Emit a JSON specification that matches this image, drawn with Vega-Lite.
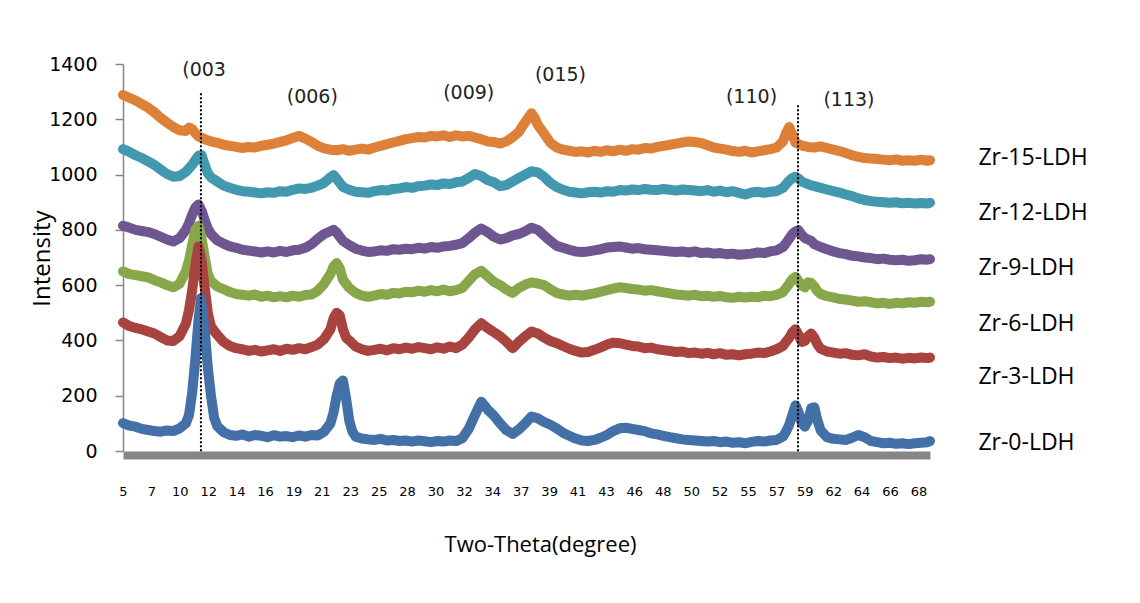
{
  "$schema": "https://vega.github.io/schema/vega-lite/v6.json",
  "width": 807,
  "height": 387,
  "autosize": "none",
  "padding": {"left": 123, "top": 64, "right": 210, "bottom": 152},
  "background": "white",
  "config": {"view": {"stroke": null}},
  "datasets": {
    "xrd": [
{"s":"15","x":5,"y":1288},{"s":"15","x":5.5,"y":1278},{"s":"15","x":6,"y":1268},{"s":"15","x":6.5,"y":1255},{"s":"15","x":7,"y":1242},{"s":"15","x":7.5,"y":1225},{"s":"15","x":8,"y":1205},{"s":"15","x":8.5,"y":1188},{"s":"15","x":9,"y":1172},{"s":"15","x":9.5,"y":1160},{"s":"15","x":10,"y":1158},{"s":"15","x":10.25,"y":1170},{"s":"15","x":10.5,"y":1165},{"s":"15","x":10.75,"y":1150},{"s":"15","x":11,"y":1138},{"s":"15","x":11.5,"y":1128},{"s":"15","x":12,"y":1120},{"s":"15","x":12.5,"y":1115},{"s":"15","x":13,"y":1108},{"s":"15","x":13.5,"y":1104},{"s":"15","x":14,"y":1100},{"s":"15","x":14.5,"y":1096},{"s":"15","x":15,"y":1100},{"s":"15","x":15.5,"y":1098},{"s":"15","x":16,"y":1104},{"s":"15","x":16.5,"y":1108},{"s":"15","x":17,"y":1112},{"s":"15","x":17.5,"y":1118},{"s":"15","x":18,"y":1124},{"s":"15","x":18.5,"y":1132},{"s":"15","x":19,"y":1140},{"s":"15","x":19.5,"y":1130},{"s":"15","x":20,"y":1118},{"s":"15","x":20.5,"y":1104},{"s":"15","x":21,"y":1095},{"s":"15","x":21.5,"y":1090},{"s":"15","x":22,"y":1088},{"s":"15","x":22.5,"y":1092},{"s":"15","x":23,"y":1086},{"s":"15","x":23.5,"y":1090},{"s":"15","x":24,"y":1094},{"s":"15","x":24.5,"y":1090},{"s":"15","x":25,"y":1098},{"s":"15","x":25.5,"y":1104},{"s":"15","x":26,"y":1110},{"s":"15","x":26.5,"y":1116},{"s":"15","x":27,"y":1122},{"s":"15","x":27.5,"y":1128},{"s":"15","x":28,"y":1132},{"s":"15","x":28.5,"y":1136},{"s":"15","x":29,"y":1134},{"s":"15","x":29.5,"y":1140},{"s":"15","x":30,"y":1138},{"s":"15","x":30.5,"y":1142},{"s":"15","x":31,"y":1136},{"s":"15","x":31.5,"y":1142},{"s":"15","x":32,"y":1138},{"s":"15","x":32.5,"y":1140},{"s":"15","x":33,"y":1134},{"s":"15","x":33.5,"y":1128},{"s":"15","x":34,"y":1120},{"s":"15","x":34.5,"y":1118},{"s":"15","x":35,"y":1112},{"s":"15","x":35.5,"y":1120},{"s":"15","x":36,"y":1135},{"s":"15","x":36.5,"y":1155},{"s":"15","x":37,"y":1190},{"s":"15","x":37.5,"y":1222},{"s":"15","x":37.75,"y":1205},{"s":"15","x":38,"y":1180},{"s":"15","x":38.5,"y":1148},{"s":"15","x":39,"y":1115},{"s":"15","x":39.5,"y":1098},{"s":"15","x":40,"y":1090},{"s":"15","x":40.5,"y":1086},{"s":"15","x":41,"y":1082},{"s":"15","x":41.5,"y":1084},{"s":"15","x":42,"y":1080},{"s":"15","x":42.5,"y":1086},{"s":"15","x":43,"y":1082},{"s":"15","x":43.5,"y":1088},{"s":"15","x":44,"y":1084},{"s":"15","x":44.5,"y":1090},{"s":"15","x":45,"y":1086},{"s":"15","x":45.5,"y":1092},{"s":"15","x":46,"y":1090},{"s":"15","x":46.5,"y":1096},{"s":"15","x":47,"y":1094},{"s":"15","x":47.5,"y":1100},{"s":"15","x":48,"y":1104},{"s":"15","x":48.5,"y":1108},{"s":"15","x":49,"y":1112},{"s":"15","x":49.5,"y":1116},{"s":"15","x":50,"y":1120},{"s":"15","x":50.5,"y":1118},{"s":"15","x":51,"y":1114},{"s":"15","x":51.5,"y":1106},{"s":"15","x":52,"y":1098},{"s":"15","x":52.5,"y":1094},{"s":"15","x":53,"y":1090},{"s":"15","x":53.5,"y":1085},{"s":"15","x":54,"y":1082},{"s":"15","x":54.5,"y":1086},{"s":"15","x":55,"y":1080},{"s":"15","x":55.5,"y":1084},{"s":"15","x":56,"y":1088},{"s":"15","x":56.5,"y":1092},{"s":"15","x":57,"y":1098},{"s":"15","x":57.5,"y":1120},{"s":"15","x":57.75,"y":1150},{"s":"15","x":58,"y":1172},{"s":"15","x":58.25,"y":1145},{"s":"15","x":58.5,"y":1115},{"s":"15","x":59,"y":1105},{"s":"15","x":59.5,"y":1100},{"s":"15","x":60,"y":1098},{"s":"15","x":60.5,"y":1102},{"s":"15","x":61,"y":1096},{"s":"15","x":61.5,"y":1090},{"s":"15","x":62,"y":1085},{"s":"15","x":62.5,"y":1078},{"s":"15","x":63,"y":1070},{"s":"15","x":63.5,"y":1064},{"s":"15","x":64,"y":1060},{"s":"15","x":64.5,"y":1058},{"s":"15","x":65,"y":1056},{"s":"15","x":65.5,"y":1054},{"s":"15","x":66,"y":1052},{"s":"15","x":66.5,"y":1055},{"s":"15","x":67,"y":1050},{"s":"15","x":67.5,"y":1052},{"s":"15","x":68,"y":1050},{"s":"15","x":68.5,"y":1054},{"s":"15","x":69,"y":1050},{"s":"15","x":69.2,"y":1052},
{"s":"12","x":5,"y":1092},{"s":"12","x":5.5,"y":1082},{"s":"12","x":6,"y":1070},{"s":"12","x":6.5,"y":1060},{"s":"12","x":7,"y":1048},{"s":"12","x":7.5,"y":1035},{"s":"12","x":8,"y":1018},{"s":"12","x":8.5,"y":1002},{"s":"12","x":9,"y":992},{"s":"12","x":9.5,"y":995},{"s":"12","x":10,"y":1010},{"s":"12","x":10.5,"y":1035},{"s":"12","x":10.75,"y":1052},{"s":"12","x":11,"y":1068},{"s":"12","x":11.25,"y":1070},{"s":"12","x":11.5,"y":1035},{"s":"12","x":11.75,"y":1005},{"s":"12","x":12,"y":990},{"s":"12","x":12.5,"y":975},{"s":"12","x":13,"y":960},{"s":"12","x":13.5,"y":952},{"s":"12","x":14,"y":945},{"s":"12","x":14.5,"y":940},{"s":"12","x":15,"y":938},{"s":"12","x":15.5,"y":935},{"s":"12","x":16,"y":932},{"s":"12","x":16.5,"y":936},{"s":"12","x":17,"y":934},{"s":"12","x":17.5,"y":940},{"s":"12","x":18,"y":938},{"s":"12","x":18.5,"y":945},{"s":"12","x":19,"y":950},{"s":"12","x":19.5,"y":948},{"s":"12","x":20,"y":952},{"s":"12","x":20.5,"y":960},{"s":"12","x":21,"y":970},{"s":"12","x":21.5,"y":990},{"s":"12","x":21.75,"y":998},{"s":"12","x":22,"y":985},{"s":"12","x":22.5,"y":955},{"s":"12","x":23,"y":945},{"s":"12","x":23.5,"y":938},{"s":"12","x":24,"y":936},{"s":"12","x":24.5,"y":934},{"s":"12","x":25,"y":940},{"s":"12","x":25.5,"y":944},{"s":"12","x":26,"y":942},{"s":"12","x":26.5,"y":948},{"s":"12","x":27,"y":950},{"s":"12","x":27.5,"y":955},{"s":"12","x":28,"y":952},{"s":"12","x":28.5,"y":958},{"s":"12","x":29,"y":960},{"s":"12","x":29.5,"y":964},{"s":"12","x":30,"y":962},{"s":"12","x":30.5,"y":968},{"s":"12","x":31,"y":966},{"s":"12","x":31.5,"y":972},{"s":"12","x":32,"y":975},{"s":"12","x":32.5,"y":988},{"s":"12","x":33,"y":1002},{"s":"12","x":33.5,"y":995},{"s":"12","x":34,"y":980},{"s":"12","x":34.5,"y":972},{"s":"12","x":35,"y":958},{"s":"12","x":35.5,"y":962},{"s":"12","x":36,"y":975},{"s":"12","x":36.5,"y":988},{"s":"12","x":37,"y":1000},{"s":"12","x":37.5,"y":1012},{"s":"12","x":38,"y":1008},{"s":"12","x":38.5,"y":992},{"s":"12","x":39,"y":970},{"s":"12","x":39.5,"y":955},{"s":"12","x":40,"y":945},{"s":"12","x":40.5,"y":938},{"s":"12","x":41,"y":935},{"s":"12","x":41.5,"y":932},{"s":"12","x":42,"y":936},{"s":"12","x":42.5,"y":938},{"s":"12","x":43,"y":935},{"s":"12","x":43.5,"y":940},{"s":"12","x":44,"y":938},{"s":"12","x":44.5,"y":944},{"s":"12","x":45,"y":942},{"s":"12","x":45.5,"y":946},{"s":"12","x":46,"y":944},{"s":"12","x":46.5,"y":948},{"s":"12","x":47,"y":945},{"s":"12","x":47.5,"y":944},{"s":"12","x":48,"y":948},{"s":"12","x":48.5,"y":945},{"s":"12","x":49,"y":942},{"s":"12","x":49.5,"y":946},{"s":"12","x":50,"y":944},{"s":"12","x":50.5,"y":942},{"s":"12","x":51,"y":940},{"s":"12","x":51.5,"y":944},{"s":"12","x":52,"y":938},{"s":"12","x":52.5,"y":942},{"s":"12","x":53,"y":936},{"s":"12","x":53.5,"y":940},{"s":"12","x":54,"y":934},{"s":"12","x":54.5,"y":928},{"s":"12","x":55,"y":935},{"s":"12","x":55.5,"y":938},{"s":"12","x":56,"y":934},{"s":"12","x":56.5,"y":938},{"s":"12","x":57,"y":940},{"s":"12","x":57.5,"y":952},{"s":"12","x":57.75,"y":965},{"s":"12","x":58,"y":978},{"s":"12","x":58.25,"y":988},{"s":"12","x":58.5,"y":992},{"s":"12","x":58.75,"y":985},{"s":"12","x":59,"y":975},{"s":"12","x":59.5,"y":965},{"s":"12","x":60,"y":958},{"s":"12","x":60.5,"y":952},{"s":"12","x":61,"y":946},{"s":"12","x":61.5,"y":940},{"s":"12","x":62,"y":935},{"s":"12","x":62.5,"y":928},{"s":"12","x":63,"y":922},{"s":"12","x":63.5,"y":914},{"s":"12","x":64,"y":908},{"s":"12","x":64.5,"y":904},{"s":"12","x":65,"y":902},{"s":"12","x":65.5,"y":900},{"s":"12","x":66,"y":898},{"s":"12","x":66.5,"y":900},{"s":"12","x":67,"y":896},{"s":"12","x":67.5,"y":898},{"s":"12","x":68,"y":895},{"s":"12","x":68.5,"y":897},{"s":"12","x":69,"y":895},{"s":"12","x":69.2,"y":898},
{"s":"9","x":5,"y":815},{"s":"9","x":5.5,"y":808},{"s":"9","x":6,"y":800},{"s":"9","x":6.5,"y":796},{"s":"9","x":7,"y":792},{"s":"9","x":7.5,"y":785},{"s":"9","x":8,"y":775},{"s":"9","x":8.5,"y":765},{"s":"9","x":9,"y":758},{"s":"9","x":9.5,"y":770},{"s":"9","x":10,"y":800},{"s":"9","x":10.25,"y":825},{"s":"9","x":10.5,"y":855},{"s":"9","x":10.75,"y":880},{"s":"9","x":11,"y":892},{"s":"9","x":11.25,"y":870},{"s":"9","x":11.5,"y":835},{"s":"9","x":11.75,"y":805},{"s":"9","x":12,"y":785},{"s":"9","x":12.5,"y":762},{"s":"9","x":13,"y":750},{"s":"9","x":13.5,"y":740},{"s":"9","x":14,"y":735},{"s":"9","x":14.5,"y":728},{"s":"9","x":15,"y":725},{"s":"9","x":15.5,"y":722},{"s":"9","x":16,"y":718},{"s":"9","x":16.5,"y":722},{"s":"9","x":17,"y":718},{"s":"9","x":17.5,"y":724},{"s":"9","x":18,"y":720},{"s":"9","x":18.5,"y":726},{"s":"9","x":19,"y":728},{"s":"9","x":19.5,"y":735},{"s":"9","x":20,"y":748},{"s":"9","x":20.5,"y":768},{"s":"9","x":21,"y":785},{"s":"9","x":21.5,"y":795},{"s":"9","x":21.75,"y":800},{"s":"9","x":22,"y":790},{"s":"9","x":22.5,"y":760},{"s":"9","x":23,"y":745},{"s":"9","x":23.5,"y":732},{"s":"9","x":24,"y":725},{"s":"9","x":24.5,"y":720},{"s":"9","x":25,"y":722},{"s":"9","x":25.5,"y":726},{"s":"9","x":26,"y":724},{"s":"9","x":26.5,"y":730},{"s":"9","x":27,"y":728},{"s":"9","x":27.5,"y":732},{"s":"9","x":28,"y":730},{"s":"9","x":28.5,"y":735},{"s":"9","x":29,"y":732},{"s":"9","x":29.5,"y":738},{"s":"9","x":30,"y":735},{"s":"9","x":30.5,"y":740},{"s":"9","x":31,"y":742},{"s":"9","x":31.5,"y":746},{"s":"9","x":32,"y":752},{"s":"9","x":32.5,"y":770},{"s":"9","x":33,"y":790},{"s":"9","x":33.5,"y":805},{"s":"9","x":34,"y":792},{"s":"9","x":34.5,"y":775},{"s":"9","x":35,"y":765},{"s":"9","x":35.5,"y":770},{"s":"9","x":36,"y":780},{"s":"9","x":36.5,"y":785},{"s":"9","x":37,"y":795},{"s":"9","x":37.5,"y":808},{"s":"9","x":38,"y":800},{"s":"9","x":38.5,"y":780},{"s":"9","x":39,"y":760},{"s":"9","x":39.5,"y":742},{"s":"9","x":40,"y":735},{"s":"9","x":40.5,"y":728},{"s":"9","x":41,"y":722},{"s":"9","x":41.5,"y":720},{"s":"9","x":42,"y":722},{"s":"9","x":42.5,"y":726},{"s":"9","x":43,"y":730},{"s":"9","x":43.5,"y":736},{"s":"9","x":44,"y":738},{"s":"9","x":44.5,"y":740},{"s":"9","x":45,"y":736},{"s":"9","x":45.5,"y":732},{"s":"9","x":46,"y":734},{"s":"9","x":46.5,"y":730},{"s":"9","x":47,"y":728},{"s":"9","x":47.5,"y":726},{"s":"9","x":48,"y":724},{"s":"9","x":48.5,"y":722},{"s":"9","x":49,"y":720},{"s":"9","x":49.5,"y":722},{"s":"9","x":50,"y":718},{"s":"9","x":50.5,"y":722},{"s":"9","x":51,"y":716},{"s":"9","x":51.5,"y":718},{"s":"9","x":52,"y":714},{"s":"9","x":52.5,"y":716},{"s":"9","x":53,"y":712},{"s":"9","x":53.5,"y":714},{"s":"9","x":54,"y":710},{"s":"9","x":54.5,"y":712},{"s":"9","x":55,"y":714},{"s":"9","x":55.5,"y":718},{"s":"9","x":56,"y":716},{"s":"9","x":56.5,"y":722},{"s":"9","x":57,"y":726},{"s":"9","x":57.5,"y":738},{"s":"9","x":57.75,"y":752},{"s":"9","x":58,"y":768},{"s":"9","x":58.25,"y":785},{"s":"9","x":58.5,"y":795},{"s":"9","x":58.75,"y":798},{"s":"9","x":59,"y":782},{"s":"9","x":59.25,"y":770},{"s":"9","x":59.5,"y":765},{"s":"9","x":59.75,"y":760},{"s":"9","x":60,"y":748},{"s":"9","x":60.5,"y":738},{"s":"9","x":61,"y":730},{"s":"9","x":61.5,"y":722},{"s":"9","x":62,"y":716},{"s":"9","x":62.5,"y":712},{"s":"9","x":63,"y":706},{"s":"9","x":63.5,"y":704},{"s":"9","x":64,"y":700},{"s":"9","x":64.5,"y":698},{"s":"9","x":65,"y":694},{"s":"9","x":65.5,"y":696},{"s":"9","x":66,"y":692},{"s":"9","x":66.5,"y":690},{"s":"9","x":67,"y":692},{"s":"9","x":67.5,"y":688},{"s":"9","x":68,"y":690},{"s":"9","x":68.5,"y":694},{"s":"9","x":69,"y":692},{"s":"9","x":69.2,"y":694},
{"s":"6","x":5,"y":650},{"s":"6","x":5.5,"y":640},{"s":"6","x":6,"y":636},{"s":"6","x":6.5,"y":632},{"s":"6","x":7,"y":628},{"s":"6","x":7.5,"y":618},{"s":"6","x":8,"y":610},{"s":"6","x":8.5,"y":600},{"s":"6","x":9,"y":592},{"s":"6","x":9.5,"y":605},{"s":"6","x":10,"y":650},{"s":"6","x":10.25,"y":690},{"s":"6","x":10.5,"y":745},{"s":"6","x":10.75,"y":800},{"s":"6","x":11,"y":815},{"s":"6","x":11.25,"y":770},{"s":"6","x":11.5,"y":700},{"s":"6","x":11.75,"y":640},{"s":"6","x":12,"y":615},{"s":"6","x":12.5,"y":595},{"s":"6","x":13,"y":585},{"s":"6","x":13.5,"y":575},{"s":"6","x":14,"y":568},{"s":"6","x":14.5,"y":565},{"s":"6","x":15,"y":562},{"s":"6","x":15.5,"y":566},{"s":"6","x":16,"y":558},{"s":"6","x":16.5,"y":562},{"s":"6","x":17,"y":556},{"s":"6","x":17.5,"y":560},{"s":"6","x":18,"y":556},{"s":"6","x":18.5,"y":562},{"s":"6","x":19,"y":558},{"s":"6","x":19.5,"y":564},{"s":"6","x":20,"y":566},{"s":"6","x":20.5,"y":580},{"s":"6","x":21,"y":605},{"s":"6","x":21.5,"y":640},{"s":"6","x":21.75,"y":668},{"s":"6","x":22,"y":680},{"s":"6","x":22.25,"y":660},{"s":"6","x":22.5,"y":620},{"s":"6","x":23,"y":590},{"s":"6","x":23.5,"y":572},{"s":"6","x":24,"y":562},{"s":"6","x":24.5,"y":558},{"s":"6","x":25,"y":562},{"s":"6","x":25.5,"y":568},{"s":"6","x":26,"y":565},{"s":"6","x":26.5,"y":572},{"s":"6","x":27,"y":570},{"s":"6","x":27.5,"y":576},{"s":"6","x":28,"y":574},{"s":"6","x":28.5,"y":580},{"s":"6","x":29,"y":576},{"s":"6","x":29.5,"y":582},{"s":"6","x":30,"y":578},{"s":"6","x":30.5,"y":584},{"s":"6","x":31,"y":578},{"s":"6","x":31.5,"y":582},{"s":"6","x":32,"y":590},{"s":"6","x":32.5,"y":615},{"s":"6","x":33,"y":640},{"s":"6","x":33.5,"y":652},{"s":"6","x":34,"y":632},{"s":"6","x":34.5,"y":612},{"s":"6","x":35,"y":600},{"s":"6","x":35.5,"y":584},{"s":"6","x":36,"y":572},{"s":"6","x":36.5,"y":590},{"s":"6","x":37,"y":602},{"s":"6","x":37.5,"y":610},{"s":"6","x":38,"y":606},{"s":"6","x":38.5,"y":600},{"s":"6","x":39,"y":585},{"s":"6","x":39.5,"y":572},{"s":"6","x":40,"y":566},{"s":"6","x":40.5,"y":562},{"s":"6","x":41,"y":565},{"s":"6","x":41.5,"y":562},{"s":"6","x":42,"y":566},{"s":"6","x":42.5,"y":570},{"s":"6","x":43,"y":576},{"s":"6","x":43.5,"y":582},{"s":"6","x":44,"y":588},{"s":"6","x":44.5,"y":592},{"s":"6","x":45,"y":590},{"s":"6","x":45.5,"y":586},{"s":"6","x":46,"y":584},{"s":"6","x":46.5,"y":580},{"s":"6","x":47,"y":582},{"s":"6","x":47.5,"y":578},{"s":"6","x":48,"y":574},{"s":"6","x":48.5,"y":570},{"s":"6","x":49,"y":566},{"s":"6","x":49.5,"y":564},{"s":"6","x":50,"y":562},{"s":"6","x":50.5,"y":565},{"s":"6","x":51,"y":560},{"s":"6","x":51.5,"y":562},{"s":"6","x":52,"y":558},{"s":"6","x":52.5,"y":561},{"s":"6","x":53,"y":556},{"s":"6","x":53.5,"y":554},{"s":"6","x":54,"y":558},{"s":"6","x":54.5,"y":555},{"s":"6","x":55,"y":558},{"s":"6","x":55.5,"y":556},{"s":"6","x":56,"y":562},{"s":"6","x":56.5,"y":560},{"s":"6","x":57,"y":565},{"s":"6","x":57.5,"y":575},{"s":"6","x":57.75,"y":590},{"s":"6","x":58,"y":605},{"s":"6","x":58.25,"y":622},{"s":"6","x":58.5,"y":630},{"s":"6","x":58.75,"y":615},{"s":"6","x":59,"y":598},{"s":"6","x":59.25,"y":592},{"s":"6","x":59.5,"y":610},{"s":"6","x":59.75,"y":608},{"s":"6","x":60,"y":595},{"s":"6","x":60.25,"y":578},{"s":"6","x":60.5,"y":568},{"s":"6","x":61,"y":560},{"s":"6","x":61.5,"y":556},{"s":"6","x":62,"y":550},{"s":"6","x":62.5,"y":548},{"s":"6","x":63,"y":544},{"s":"6","x":63.5,"y":540},{"s":"6","x":64,"y":542},{"s":"6","x":64.5,"y":538},{"s":"6","x":65,"y":534},{"s":"6","x":65.5,"y":536},{"s":"6","x":66,"y":532},{"s":"6","x":66.5,"y":536},{"s":"6","x":67,"y":534},{"s":"6","x":67.5,"y":538},{"s":"6","x":68,"y":536},{"s":"6","x":68.5,"y":540},{"s":"6","x":69,"y":538},{"s":"6","x":69.2,"y":540},
{"s":"3","x":5,"y":465},{"s":"3","x":5.5,"y":452},{"s":"3","x":6,"y":445},{"s":"3","x":6.5,"y":440},{"s":"3","x":7,"y":432},{"s":"3","x":7.5,"y":425},{"s":"3","x":8,"y":412},{"s":"3","x":8.5,"y":400},{"s":"3","x":9,"y":398},{"s":"3","x":9.5,"y":415},{"s":"3","x":10,"y":460},{"s":"3","x":10.25,"y":510},{"s":"3","x":10.5,"y":580},{"s":"3","x":10.75,"y":670},{"s":"3","x":11,"y":740},{"s":"3","x":11.25,"y":690},{"s":"3","x":11.5,"y":590},{"s":"3","x":11.75,"y":500},{"s":"3","x":12,"y":450},{"s":"3","x":12.5,"y":420},{"s":"3","x":13,"y":395},{"s":"3","x":13.5,"y":380},{"s":"3","x":14,"y":372},{"s":"3","x":14.5,"y":368},{"s":"3","x":15,"y":362},{"s":"3","x":15.5,"y":366},{"s":"3","x":16,"y":360},{"s":"3","x":16.5,"y":364},{"s":"3","x":17,"y":368},{"s":"3","x":17.5,"y":362},{"s":"3","x":18,"y":370},{"s":"3","x":18.5,"y":366},{"s":"3","x":19,"y":372},{"s":"3","x":19.5,"y":368},{"s":"3","x":20,"y":376},{"s":"3","x":20.5,"y":385},{"s":"3","x":21,"y":405},{"s":"3","x":21.5,"y":440},{"s":"3","x":21.75,"y":480},{"s":"3","x":22,"y":500},{"s":"3","x":22.25,"y":490},{"s":"3","x":22.5,"y":440},{"s":"3","x":22.75,"y":410},{"s":"3","x":23,"y":400},{"s":"3","x":23.5,"y":378},{"s":"3","x":24,"y":368},{"s":"3","x":24.5,"y":362},{"s":"3","x":25,"y":366},{"s":"3","x":25.5,"y":370},{"s":"3","x":26,"y":364},{"s":"3","x":26.5,"y":372},{"s":"3","x":27,"y":368},{"s":"3","x":27.5,"y":374},{"s":"3","x":28,"y":370},{"s":"3","x":28.5,"y":376},{"s":"3","x":29,"y":372},{"s":"3","x":29.5,"y":368},{"s":"3","x":30,"y":375},{"s":"3","x":30.5,"y":370},{"s":"3","x":31,"y":378},{"s":"3","x":31.5,"y":372},{"s":"3","x":32,"y":385},{"s":"3","x":32.5,"y":410},{"s":"3","x":33,"y":440},{"s":"3","x":33.5,"y":462},{"s":"3","x":34,"y":445},{"s":"3","x":34.5,"y":430},{"s":"3","x":35,"y":415},{"s":"3","x":35.5,"y":395},{"s":"3","x":36,"y":372},{"s":"3","x":36.5,"y":395},{"s":"3","x":37,"y":415},{"s":"3","x":37.5,"y":432},{"s":"3","x":38,"y":425},{"s":"3","x":38.5,"y":410},{"s":"3","x":39,"y":398},{"s":"3","x":39.5,"y":390},{"s":"3","x":40,"y":380},{"s":"3","x":40.5,"y":370},{"s":"3","x":41,"y":362},{"s":"3","x":41.5,"y":356},{"s":"3","x":42,"y":358},{"s":"3","x":42.5,"y":366},{"s":"3","x":43,"y":375},{"s":"3","x":43.5,"y":385},{"s":"3","x":44,"y":392},{"s":"3","x":44.5,"y":390},{"s":"3","x":45,"y":385},{"s":"3","x":45.5,"y":380},{"s":"3","x":46,"y":378},{"s":"3","x":46.5,"y":372},{"s":"3","x":47,"y":374},{"s":"3","x":47.5,"y":368},{"s":"3","x":48,"y":365},{"s":"3","x":48.5,"y":362},{"s":"3","x":49,"y":358},{"s":"3","x":49.5,"y":360},{"s":"3","x":50,"y":354},{"s":"3","x":50.5,"y":356},{"s":"3","x":51,"y":352},{"s":"3","x":51.5,"y":355},{"s":"3","x":52,"y":350},{"s":"3","x":52.5,"y":354},{"s":"3","x":53,"y":348},{"s":"3","x":53.5,"y":350},{"s":"3","x":54,"y":346},{"s":"3","x":54.5,"y":350},{"s":"3","x":55,"y":352},{"s":"3","x":55.5,"y":356},{"s":"3","x":56,"y":354},{"s":"3","x":56.5,"y":360},{"s":"3","x":57,"y":368},{"s":"3","x":57.5,"y":380},{"s":"3","x":57.75,"y":395},{"s":"3","x":58,"y":410},{"s":"3","x":58.25,"y":430},{"s":"3","x":58.5,"y":440},{"s":"3","x":58.75,"y":420},{"s":"3","x":59,"y":395},{"s":"3","x":59.25,"y":398},{"s":"3","x":59.5,"y":415},{"s":"3","x":59.75,"y":425},{"s":"3","x":60,"y":410},{"s":"3","x":60.25,"y":385},{"s":"3","x":60.5,"y":370},{"s":"3","x":61,"y":360},{"s":"3","x":61.5,"y":356},{"s":"3","x":62,"y":352},{"s":"3","x":62.5,"y":354},{"s":"3","x":63,"y":348},{"s":"3","x":63.5,"y":346},{"s":"3","x":64,"y":350},{"s":"3","x":64.5,"y":342},{"s":"3","x":65,"y":338},{"s":"3","x":65.5,"y":340},{"s":"3","x":66,"y":336},{"s":"3","x":66.5,"y":338},{"s":"3","x":67,"y":334},{"s":"3","x":67.5,"y":337},{"s":"3","x":68,"y":335},{"s":"3","x":68.5,"y":338},{"s":"3","x":69,"y":336},{"s":"3","x":69.2,"y":338},
{"s":"0","x":5,"y":101},{"s":"0","x":5.5,"y":92},{"s":"0","x":6,"y":88},{"s":"0","x":6.5,"y":80},{"s":"0","x":7,"y":76},{"s":"0","x":7.5,"y":72},{"s":"0","x":8,"y":70},{"s":"0","x":8.5,"y":74},{"s":"0","x":9,"y":72},{"s":"0","x":9.5,"y":82},{"s":"0","x":10,"y":100},{"s":"0","x":10.25,"y":130},{"s":"0","x":10.5,"y":210},{"s":"0","x":10.75,"y":330},{"s":"0","x":11,"y":470},{"s":"0","x":11.2,"y":553},{"s":"0","x":11.5,"y":440},{"s":"0","x":11.75,"y":300},{"s":"0","x":12,"y":200},{"s":"0","x":12.25,"y":120},{"s":"0","x":12.5,"y":90},{"s":"0","x":13,"y":68},{"s":"0","x":13.5,"y":58},{"s":"0","x":14,"y":55},{"s":"0","x":14.5,"y":60},{"s":"0","x":15,"y":52},{"s":"0","x":15.5,"y":58},{"s":"0","x":16,"y":55},{"s":"0","x":16.5,"y":50},{"s":"0","x":17,"y":57},{"s":"0","x":17.5,"y":52},{"s":"0","x":18,"y":54},{"s":"0","x":18.5,"y":50},{"s":"0","x":19,"y":56},{"s":"0","x":19.5,"y":52},{"s":"0","x":20,"y":58},{"s":"0","x":20.5,"y":56},{"s":"0","x":21,"y":70},{"s":"0","x":21.5,"y":100},{"s":"0","x":21.75,"y":140},{"s":"0","x":22,"y":200},{"s":"0","x":22.25,"y":245},{"s":"0","x":22.5,"y":255},{"s":"0","x":22.75,"y":190},{"s":"0","x":23,"y":110},{"s":"0","x":23.25,"y":70},{"s":"0","x":23.5,"y":52},{"s":"0","x":24,"y":45},{"s":"0","x":24.5,"y":42},{"s":"0","x":25,"y":40},{"s":"0","x":25.5,"y":44},{"s":"0","x":26,"y":38},{"s":"0","x":26.5,"y":40},{"s":"0","x":27,"y":36},{"s":"0","x":27.5,"y":38},{"s":"0","x":28,"y":34},{"s":"0","x":28.5,"y":38},{"s":"0","x":29,"y":35},{"s":"0","x":29.5,"y":32},{"s":"0","x":30,"y":36},{"s":"0","x":30.5,"y":34},{"s":"0","x":31,"y":38},{"s":"0","x":31.5,"y":36},{"s":"0","x":32,"y":46},{"s":"0","x":32.5,"y":80},{"s":"0","x":33,"y":130},{"s":"0","x":33.5,"y":178},{"s":"0","x":33.75,"y":165},{"s":"0","x":34,"y":150},{"s":"0","x":34.5,"y":128},{"s":"0","x":35,"y":100},{"s":"0","x":35.5,"y":75},{"s":"0","x":36,"y":62},{"s":"0","x":36.5,"y":78},{"s":"0","x":37,"y":100},{"s":"0","x":37.5,"y":125},{"s":"0","x":38,"y":118},{"s":"0","x":38.5,"y":105},{"s":"0","x":39,"y":95},{"s":"0","x":39.5,"y":82},{"s":"0","x":40,"y":66},{"s":"0","x":40.5,"y":55},{"s":"0","x":41,"y":45},{"s":"0","x":41.5,"y":38},{"s":"0","x":42,"y":36},{"s":"0","x":42.5,"y":40},{"s":"0","x":43,"y":48},{"s":"0","x":43.5,"y":58},{"s":"0","x":44,"y":72},{"s":"0","x":44.5,"y":82},{"s":"0","x":45,"y":84},{"s":"0","x":45.5,"y":80},{"s":"0","x":46,"y":76},{"s":"0","x":46.5,"y":72},{"s":"0","x":47,"y":64},{"s":"0","x":47.5,"y":60},{"s":"0","x":48,"y":55},{"s":"0","x":48.5,"y":50},{"s":"0","x":49,"y":46},{"s":"0","x":49.5,"y":42},{"s":"0","x":50,"y":40},{"s":"0","x":50.5,"y":38},{"s":"0","x":51,"y":36},{"s":"0","x":51.5,"y":34},{"s":"0","x":52,"y":36},{"s":"0","x":52.5,"y":32},{"s":"0","x":53,"y":34},{"s":"0","x":53.5,"y":30},{"s":"0","x":54,"y":32},{"s":"0","x":54.5,"y":28},{"s":"0","x":55,"y":33},{"s":"0","x":55.5,"y":36},{"s":"0","x":56,"y":34},{"s":"0","x":56.5,"y":38},{"s":"0","x":57,"y":40},{"s":"0","x":57.5,"y":52},{"s":"0","x":57.75,"y":70},{"s":"0","x":58,"y":95},{"s":"0","x":58.25,"y":130},{"s":"0","x":58.5,"y":165},{"s":"0","x":58.75,"y":140},{"s":"0","x":59,"y":100},{"s":"0","x":59.25,"y":88},{"s":"0","x":59.5,"y":110},{"s":"0","x":59.75,"y":155},{"s":"0","x":60,"y":158},{"s":"0","x":60.25,"y":110},{"s":"0","x":60.5,"y":75},{"s":"0","x":61,"y":50},{"s":"0","x":61.5,"y":44},{"s":"0","x":62,"y":42},{"s":"0","x":62.5,"y":40},{"s":"0","x":63,"y":48},{"s":"0","x":63.5,"y":58},{"s":"0","x":64,"y":50},{"s":"0","x":64.5,"y":36},{"s":"0","x":65,"y":32},{"s":"0","x":65.5,"y":28},{"s":"0","x":66,"y":30},{"s":"0","x":66.5,"y":26},{"s":"0","x":67,"y":28},{"s":"0","x":67.5,"y":25},{"s":"0","x":68,"y":28},{"s":"0","x":68.5,"y":30},{"s":"0","x":69,"y":32},{"s":"0","x":69.2,"y":36}
    ],
    "peaks": [
      {"x": 11.2, "top": 1294, "bottom": -8},
      {"x": 58.7, "top": 1251, "bottom": -8}
    ],
    "ann": [
      {"t": "(003", "x": 11.45, "y": 1377},
      {"t": "(006)", "x": 20.06, "y": 1281},
      {"t": "(009)", "x": 32.5, "y": 1295},
      {"t": "(015)", "x": 39.8, "y": 1359},
      {"t": "(110)", "x": 55.0, "y": 1281},
      {"t": "(113)", "x": 62.75, "y": 1269}
    ],
    "names": [
      {"t": "Zr-15-LDH", "x": 73.05, "y": 1059},
      {"t": "Zr-12-LDH", "x": 73.05, "y": 860},
      {"t": "Zr-9-LDH", "x": 73.05, "y": 662},
      {"t": "Zr-6-LDH", "x": 73.05, "y": 459},
      {"t": "Zr-3-LDH", "x": 73.05, "y": 268},
      {"t": "Zr-0-LDH", "x": 73.05, "y": 29}
    ]
  },
  "layer": [
    {
      "data": {"name": "xrd"},
      "mark": {"type": "line", "strokeWidth": 10, "strokeCap": "round", "strokeJoin": "round", "clip": false},
      "encoding": {
        "x": {
          "field": "x", "type": "quantitative",
          "scale": {"domain": [5, 69.2], "nice": false, "zero": false},
          "axis": {
            "title": "Two-Theta(degree)",
            "values": [5, 7.26, 9.52, 11.78, 14.04, 16.3, 18.56, 20.82, 23.08, 25.34, 27.6, 29.86, 32.12, 34.38, 36.64, 38.9, 41.16, 43.42, 45.68, 47.94, 50.2, 52.46, 54.72, 56.98, 59.24, 61.5, 63.76, 66.02, 68.28],
            "tickCount": 60,
            "labelExpr": "'' + round(datum.value)",
            "offset": 4,
            "domainColor": "#868686",
            "domainWidth": 8,
            "domainCap": "butt",
            "ticks": false,
            "grid": false,
            "labelPadding": 30,
            "labelFont": "DejaVu Sans",
            "labelFontSize": 13,
            "labelColor": "#000000",
            "labelOverlap": false,
            "labelFlush": false,
            "labelBound": false,
            "titleFont": "Open Sans",
            "titleFontSize": 22,
            "titleFontWeight": "normal",
            "titleColor": "#000000",
            "titleX": 417,
            "titleY": 89,
            "titleBaseline": "middle",
            "titleAlign": "center"
          }
        },
        "y": {
          "field": "y", "type": "quantitative",
          "scale": {"domain": [0, 1400], "nice": false},
          "axis": {
            "title": "Intensity",
            "values": [0, 200, 400, 600, 800, 1000, 1200, 1400],
            "tickCount": 20,
            "format": "d",
            "domainColor": "#868686",
            "domainWidth": 1.5,
            "tickColor": "#868686",
            "tickSize": 8,
            "tickWidth": 1.5,
            "grid": false,
            "labelPadding": 18,
            "labelFont": "DejaVu Sans",
            "labelFontSize": 19,
            "labelColor": "#000000",
            "titleFont": "Open Sans",
            "titleFontSize": 24,
            "titleFontWeight": "normal",
            "titleColor": "#000000",
            "titleX": -81,
            "titleY": 194,
            "titleAngle": 270,
            "titleBaseline": "middle",
            "titleAlign": "center"
          }
        },
        "color": {
          "field": "s", "type": "nominal",
          "scale": {
            "domain": ["15", "12", "9", "6", "3", "0"],
            "range": ["#DD8139", "#4198AF", "#6E5690", "#87A74A", "#A8433F", "#4470A8"]
          },
          "legend": null
        }
      }
    },
    {
      "data": {"name": "peaks"},
      "mark": {"type": "rule", "color": "#000000", "strokeWidth": 2, "strokeDash": [2, 2], "clip": false},
      "encoding": {
        "x": {"field": "x", "type": "quantitative"},
        "y": {"field": "top", "type": "quantitative"},
        "y2": {"field": "bottom"}
      }
    },
    {
      "data": {"name": "ann"},
      "mark": {"type": "text", "font": "DejaVu Sans", "fontSize": 19, "color": "#222222", "align": "center", "baseline": "middle", "clip": false},
      "encoding": {
        "x": {"field": "x", "type": "quantitative"},
        "y": {"field": "y", "type": "quantitative"},
        "text": {"field": "t"}
      }
    },
    {
      "data": {"name": "names"},
      "mark": {"type": "text", "font": "Open Sans", "fontSize": 23, "color": "#000000", "align": "left", "baseline": "middle", "clip": false},
      "encoding": {
        "x": {"field": "x", "type": "quantitative"},
        "y": {"field": "y", "type": "quantitative"},
        "text": {"field": "t"}
      }
    }
  ]
}
